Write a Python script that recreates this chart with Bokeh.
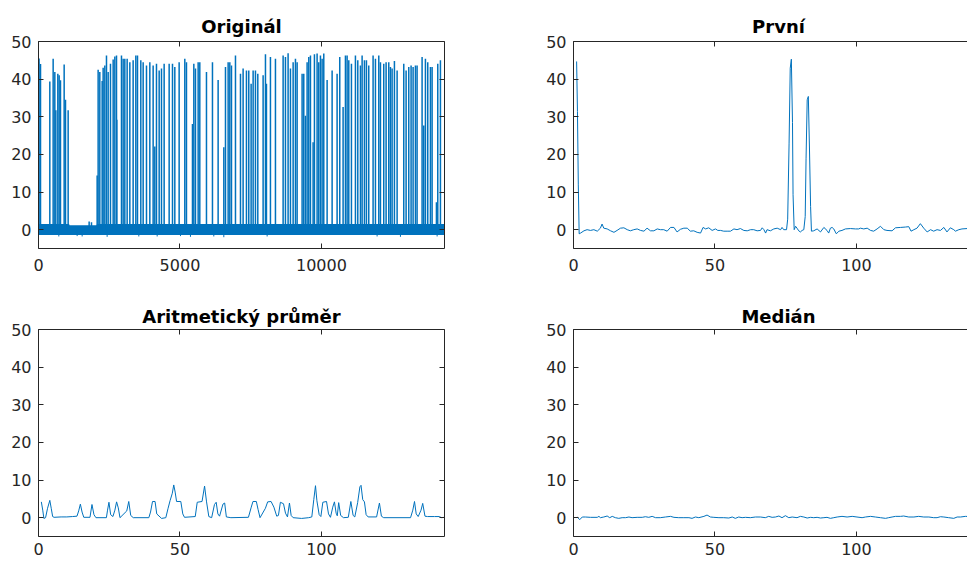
from bokeh.plotting import figure
from bokeh.layouts import column, row
from bokeh.models import Range1d, LinearAxis, FixedTicker, ColumnDataSource, NumeralTickFormatter
from bokeh.embed import file_html
from bokeh.resources import INLINE

BLUE = "#0072BD"
AX = "#262626"

titles = ["Originál", "První", "Aritmetický průměr", "Medián"]
y_ticks = [0, 10, 20, 30, 40, 50]
x_ticks_orig = [0, 5000, 10000]
x_ticks_small = [0, 50, 100]
y_limits = (-5, 50)
x_limits_orig = (0, 14350)
x_limits_small = (0, 143.5)

# ---- Original signal: noise band + spikes ----
orig_band_x = [0, 1080, 1100, 2050, 2070, 14350]
orig_band_lo = [-1.4, -1.4, -1.4, -1.4, -1.4, -1.4]
orig_band_hi = [1.5, 1.5, 1.2, 1.2, 1.5, 1.5]

orig_dip_x = [718, 1366, 1543, 2426, 3546, 4194, 5018, 5371, 6196, 6550, 8081, 11968, 12793, 14089]
orig_dip_d = [-1.8, -1.7, -1.8, -1.9, -1.8, -1.8, -1.7, -1.9, -1.8, -2.0, -1.8, -1.8, -1.9, -1.8]

orig_spike_x = [0, 20, 71, 400, 518, 577, 613, 683, 730, 777, 907, 954, 1048,
                1790, 1873,
                2073, 2108, 2167, 2250, 2285, 2344, 2403, 2462, 2544, 2639,
                2698, 2757, 2768, 2933, 2992, 3051, 3133, 3228, 3345, 3440,
                3499, 3616, 3699, 3817, 3935, 4052, 4111, 4170, 4265, 4347,
                4441, 4618, 4736, 4818, 4971, 5171, 5230, 5442, 5490, 5548,
                5643, 5701, 5937, 6149, 6349, 6550, 6609, 6703, 6762, 6821,
                6962, 7139, 7232, 7350, 7432, 7515, 7586, 7668, 7751, 7939,
                8022, 8057, 8198, 8375, 8646, 8728, 8822, 8905, 9000, 9082,
                9141, 9317, 9376, 9435, 9494, 9553, 9612, 9706, 9753, 9847,
                9906, 9965, 10024, 10083, 10201, 10378, 10554, 10648, 10766, 10849,
                10908, 10967, 11061, 11202, 11285, 11379, 11438, 11520, 11591, 11673,
                11826, 11909, 12027, 12086, 12203, 12286, 12380, 12439, 12498, 12580,
                12675, 12910, 12993, 13087, 13169, 13240, 13323, 13381, 13558, 13617,
                13676, 13758, 13853, 13912, 14065, 14112, 14206]
orig_spike_h = [44.5, 45.5, 44.0, 39.4, 45.4, 41.9, 31.7, 41.4, 41.0, 39.7, 43.9, 34.5, 31.7,
                2.2, 2.0,
                14.4, 42.5, 41.9, 39.5, 43.0, 43.6, 46.3, 41.9, 44.1, 45.2,
                46.0, 46.3, 29.2, 46.3, 45.4, 45.4, 45.4, 44.5, 45.0, 46.3,
                46.3, 45.0, 44.5, 43.6, 44.5, 43.6, 22.1, 44.1, 42.3, 42.8,
                44.1, 44.1, 44.1, 43.2, 44.5, 45.4, 44.5, 28.1, 44.1, 42.8,
                44.5, 44.5, 41.9, 44.5, 39.8, 21.9, 43.2, 44.5, 44.5, 43.6,
                46.3, 41.4, 42.8, 42.3, 42.3, 38.8, 42.3, 42.3, 41.4, 41.0,
                46.6, 38.8, 45.9, 45.4, 46.3, 45.9, 46.9, 42.8, 44.5, 45.4,
                44.5, 41.4, 41.4, 30.3, 44.5, 45.9, 46.3, 23.2, 46.6, 46.8,
                44.5, 46.3, 45.4, 46.8, 39.8, 42.3, 41.4, 45.9, 32.6, 46.3,
                46.3, 45.0, 44.1, 46.3, 45.0, 43.6, 46.3, 45.0, 45.0, 43.6,
                46.3, 45.4, 46.3, 44.5, 44.1, 44.5, 44.5, 43.2, 42.8, 44.8,
                42.3, 44.1, 42.3, 43.2, 43.6, 43.2, 43.6, 43.6, 45.9, 27.7,
                45.4, 44.5, 43.2, 43.2, 7.3, 44.1, 45.0]

# ---- "První" (first sample) ----
prvni_x = [1.1, 1.4, 1.7, 2.0, 2.5, 3.7, 4.8, 6.0, 7.2, 8.4,
           9.5, 10.1, 10.7, 11.9, 13.1, 14.3, 15.4, 16.6, 17.8, 19.0,
           20.1, 21.3, 22.5, 23.7, 24.9, 26.0, 27.2, 28.4, 29.6, 30.7,
           31.9, 33.1, 34.3, 35.5, 36.6, 37.8, 39.0, 40.2, 41.3, 42.5,
           43.7, 44.9, 45.8, 46.7, 47.8, 49.0, 50.2, 51.0, 52.0, 53.1,
           54.3, 55.5, 56.7, 57.8, 59.0, 60.2, 61.4, 62.6, 63.7, 64.9,
           66.1, 66.7, 67.3, 67.9, 68.4, 69.6, 70.8, 72.0, 73.2, 73.7,
           74.3, 75.3, 75.7, 76.2, 76.6, 77.0, 77.4, 77.6, 78.0, 78.5,
           79.0, 79.6, 80.2, 80.8, 81.4, 81.9, 82.2, 82.6, 83.0, 83.4,
           83.8, 84.1, 84.9, 86.1, 87.3, 88.5, 89.6, 90.2, 90.8, 91.4,
           92.0, 92.9, 93.8, 94.9, 96.1, 97.9, 99.7, 100.8, 101.4, 102.6,
           103.8, 105.0, 106.1, 107.3, 108.5, 109.7, 110.8, 112.6, 113.8, 115.6,
           117.3, 118.5, 119.3, 120.3, 121.4, 122.6, 123.8, 125.0, 126.2, 127.3,
           128.5, 129.7, 130.9, 132.0, 133.2, 134.4, 135.0, 136.2, 137.3, 139.1,
           140.5, 142.0, 143.5]
prvni_y = [44.7, 31.4, 11.9, -1.1, -0.9, -0.3, 0.0, -0.2, 0.0, -0.4,
           0.4, 1.5, 0.4, 0.2, -0.3, -0.7, -0.2, 0.4, 0.5, 0.0,
           -0.3, 0.0, 0.2, -0.2, -0.4, 0.4, -0.3, -0.3, 0.2, 0.0,
           0.0, -0.4, 0.6, 0.6, -0.6, 0.1, 0.4, 0.4, -0.4, -0.3,
           -0.7, -0.9, 0.6, 0.2, 0.5, -0.2, 0.2, -0.2, -0.2, -0.4,
           -0.4, -0.4, 0.2, 0.0, 0.3, -0.2, -0.3, 0.0, 0.0, -0.3,
           -0.2, 0.5, 0.0, -0.9, 0.0, -0.3, 0.2, 0.4, 0.0, 0.6,
           0.0, 0.0, 2.8, 23.0, 42.9, 45.3, 28.5, 9.3, 0.0, 0.9,
           0.4, -0.3, -0.6, -0.2, 0.0, 3.5, 19.0, 34.5, 35.4, 21.7,
           6.2, -0.4, -0.3, 0.2, -0.6, 0.6, -0.2, -0.9, 0.4, 0.6,
           0.2, -1.1, -0.4, -0.2, 0.2, 0.3, 0.2, 0.2, 0.4, 0.2,
           0.4, -0.2, -0.4, 0.2, 0.9, 0.0, -0.2, -0.3, 0.5, 0.6,
           0.7, 0.8, -0.4, 0.0, 0.4, 1.6, 0.4, -0.6, 0.0, -0.4,
           0.0, -0.2, 0.6, -0.6, 0.5, 0.0, -0.4, 0.0, 0.2, 0.3,
           0.3, 0.2, 0.3]

# ---- "Aritmetický průměr" (mean) ----
mean_x = [1.0, 1.5, 1.9, 2.5, 3.2, 4.0, 4.5, 5.0, 5.5, 8.0,
          10.0, 12.0, 13.6, 14.2, 14.8, 15.4, 16.0, 18.2, 18.9, 19.6,
          20.3, 24.0, 24.4, 24.9, 25.5, 26.3, 27.0, 27.6, 28.2, 28.8,
          31.2, 31.9, 32.6, 33.5, 39.0, 39.6, 40.3, 41.2, 41.8, 43.5,
          45.0, 45.8, 46.5, 47.3, 47.8, 48.3, 48.8, 50.3, 51.0, 51.6,
          55.4, 56.1, 57.8, 58.7, 59.4, 60.2, 61.2, 62.2, 62.8, 63.4,
          64.0, 65.2, 65.8, 66.4, 68.0, 74.2, 75.2, 75.8, 77.0, 77.6,
          78.3, 80.2, 81.0, 82.2, 83.2, 84.2, 84.8, 85.5, 86.6, 87.3,
          88.0, 88.7, 89.3, 90.0, 93.0, 95.5, 96.6, 97.3, 97.9, 98.4,
          99.2, 99.8, 100.5, 101.8, 102.5, 103.2, 104.0, 104.6, 105.2, 105.6,
          106.1, 106.8, 107.8, 109.5, 110.4, 111.2, 111.8, 112.8, 113.6, 114.0,
          114.6, 115.2, 115.8, 116.5, 119.5, 120.5, 121.2, 122.0, 131.5, 132.3,
          132.9, 133.5, 134.2, 135.2, 135.8, 136.6, 137.5, 140.0, 141.6, 142.5,
          143.5]
mean_y = [4.2, 2.0, -0.2, 0.0, 2.5, 4.6, 2.5, 0.3, 0.1, 0.2,
          0.2, 0.3, 0.4, 1.8, 3.6, 1.5, 0.1, 0.1, 3.5, 0.8,
          0.0, 0.0, 2.0, 4.1, 0.8, 0.3, 2.0, 4.2, 2.6, 0.0,
          1.8, 4.3, 0.6, 0.0, 0.0, 1.5, 4.3, 4.3, 1.0, -0.2,
          0.0, 2.5, 4.5, 6.5, 8.7, 6.8, 4.3, 4.3, 1.0, 0.1,
          0.3, 4.1, 4.3, 8.4, 4.2, 0.3, 0.0, 3.5, 4.1, 1.0,
          0.4, 3.6, 3.9, 0.2, 0.0, 0.1, 2.8, 4.3, 4.3, 2.2,
          0.0, 2.5, 4.2, 4.3, 2.8, 0.4, 0.6, 4.1, 3.7, 1.2,
          0.2, 3.9, 0.6, 0.0, -0.2, 0.0, 0.2, 4.8, 8.5, 4.5,
          0.8, 0.3, 4.1, 4.3, 1.0, 0.1, 2.8, 4.2, 1.2, 0.5,
          4.0, 0.6, 0.0, 0.1, 4.3, 0.6, 0.2, 4.0, 8.2, 8.6,
          4.8, 4.2, 0.8, 0.2, 0.2, 3.9, 0.4, 0.0, 0.0, 2.0,
          4.3, 1.0, 0.3, 2.0, 3.8, 0.4, 0.3, 0.3, 0.3, 0.0,
          0.1]

# ---- "Medián" ----
med_x = [1.0, 1.3, 2.2, 3.1, 4.2, 6.0, 8.4, 9.0, 9.5, 10.7,
         11.9, 12.8, 13.7, 14.8, 16.0, 17.2, 18.4, 19.6, 20.7, 22.5,
         24.3, 25.4, 26.6, 27.8, 29.0, 30.7, 32.5, 34.3, 35.5, 37.2,
         39.0, 40.8, 41.9, 43.1, 44.3, 46.1, 47.2, 48.4, 49.6, 51.4,
         53.1, 54.9, 56.1, 57.2, 58.4, 59.6, 60.8, 62.5, 64.3, 66.1,
         67.8, 69.0, 70.2, 71.4, 72.6, 73.7, 74.9, 76.1, 77.3, 79.0,
         80.2, 81.4, 82.6, 83.8, 84.9, 86.1, 87.3, 88.5, 89.6, 90.8,
         92.0, 93.2, 94.9, 96.7, 98.5, 100.2, 102.0, 103.2, 105.0, 106.7,
         108.5, 110.3, 111.4, 112.6, 113.8, 115.6, 116.7, 118.5, 120.3, 122.0,
         123.8, 125.6, 127.3, 128.5, 129.7, 130.9, 132.6, 134.4, 135.6, 136.8,
         138.5, 140.0, 143.5]
med_y = [0.0, 0.18, -0.53, 0.18, 0.18, 0.09, 0.09, 0.35, 0.0, 0.18,
         0.44, 0.0, 0.35, 0.0, -0.18, 0.0, 0.0, 0.18, 0.0, 0.09,
         0.09, 0.26, 0.09, 0.35, 0.0, 0.0, 0.18, 0.35, 0.09, 0.0,
         0.0, 0.0, -0.18, 0.18, 0.0, 0.35, 0.7, 0.18, 0.09, 0.0,
         0.0, -0.09, 0.18, -0.18, 0.18, 0.0, 0.09, 0.0, 0.18, 0.18,
         0.0, 0.35, 0.09, 0.18, 0.44, 0.0, 0.53, 0.0, 0.18, 0.0,
         0.35, 0.18, -0.09, 0.09, 0.0, 0.09, -0.09, 0.0, 0.09, -0.18,
         0.0, 0.18, 0.35, 0.18, 0.35, 0.18, 0.0, 0.18, 0.35, 0.18,
         0.0, -0.18, 0.0, 0.18, 0.35, 0.35, 0.44, 0.18, 0.18, 0.35,
         0.18, 0.18, 0.0, 0.0, 0.26, 0.18, 0.0, -0.18, 0.18, 0.18,
         0.35, 0.3, 0.2]

FONT = "DejaVu Sans"
TICK_SIZE = "16px"
TITLE_PX = 18
TITLE_SIZE = f"{TITLE_PX}px"

# DejaVu Sans Bold advance widths (em) for centring the right-hand titles
BOLD_EM = {"P": 0.733, "r": 0.493, "v": 0.652, "n": 0.712, "í": 0.343,
           "M": 0.995, "e": 0.678, "d": 0.716, "i": 0.343, "á": 0.675}


def style_axis(ax, ticks, labels, standoff=7):
    ax.ticker = FixedTicker(ticks=ticks)
    ax.formatter = NumeralTickFormatter(format="0")
    ax.axis_line_color = AX
    ax.axis_line_width = 1
    ax.major_tick_line_color = AX
    ax.major_tick_line_width = 1
    ax.major_tick_in = 5
    ax.major_tick_out = 0
    ax.minor_tick_line_color = None
    ax.major_label_text_font = FONT
    if labels:
        ax.major_label_text_color = AX
        ax.major_label_standoff = standoff
        ax.major_label_text_font_size = TICK_SIZE
    else:
        ax.major_label_text_color = None
        ax.major_label_standoff = 0
        ax.major_label_text_font_size = "0px"


def make_fig(title, width, height, bl, br, bt, bb, xr, xticks, mirror_right,
             frame_w, xstand, tstand):
    p = figure(width=width, height=height, output_backend="svg", toolbar_location=None,
               x_range=Range1d(*xr), y_range=Range1d(*y_limits),
               min_border_left=bl, min_border_right=br, min_border_top=bt, min_border_bottom=bb,
               outline_line_color=None, background_fill_color="white",
               border_fill_color="white")
    p.xgrid.visible = False
    p.ygrid.visible = False
    p.title.text = title
    p.title.text_font = FONT
    p.title.text_font_size = TITLE_SIZE
    p.title.text_font_style = "bold"
    p.title.text_color = "#000000"
    p.title.standoff = tstand
    if frame_w is None:
        p.title.align = "center"
    else:
        # centre the title on the full (window-clipped) axes width
        tw = sum(BOLD_EM.get(c, 0.65) for c in title) * TITLE_PX
        p.title.align = "left"
        p.title.offset = frame_w / 2 - tw / 2
    style_axis(p.xaxis[0], xticks, True, xstand)
    style_axis(p.yaxis[0], y_ticks, True, 7)
    top = LinearAxis()
    style_axis(top, xticks, False)
    p.add_layout(top, "above")
    if mirror_right:
        right = LinearAxis()
        style_axis(right, y_ticks, False)
        p.add_layout(right, "right")
    return p


# Top-left: original
p1 = make_fig(titles[0], 480, 290, 38, 36, 41, 42, x_limits_orig, x_ticks_orig, True, None, 10, 9)
band_src = ColumnDataSource(dict(x=orig_band_x, lo=orig_band_lo, hi=orig_band_hi))
p1.varea(x="x", y1="lo", y2="hi", source=band_src, fill_color=BLUE)
dip_src = ColumnDataSource(dict(x=orig_dip_x, d=orig_dip_d, z=[0] * len(orig_dip_x)))
p1.segment(x0="x", y0="z", x1="x", y1="d", source=dip_src, line_color=BLUE, line_width=1)
spk_src = ColumnDataSource(dict(x=orig_spike_x, h=orig_spike_h, z=[0] * len(orig_spike_x)))
p1.segment(x0="x", y0="z", x1="x", y1="h", source=spk_src, line_color=BLUE, line_width=1.5)

# Top-right: first sample (axes clipped by the window edge)
right_end = x_limits_small[0] + 394 / (406 / (x_limits_small[1] - x_limits_small[0]))
p2 = make_fig(titles[1], 487, 290, 93, 0, 41, 42, (0, right_end), x_ticks_small, False, 410, 10, 9)
p2.line(prvni_x, prvni_y, line_color=BLUE, line_width=1)

# Bottom-left: mean
p3 = make_fig(titles[2], 480, 271, 38, 36, 39, 25, x_limits_small, x_ticks_small, True, None, 6, 6)
p3.line(mean_x, mean_y, line_color=BLUE, line_width=1)

# Bottom-right: median
p4 = make_fig(titles[3], 487, 271, 93, 0, 39, 25, (0, right_end), x_ticks_small, False, 410, 6, 6)
p4.line(med_x, med_y, line_color=BLUE, line_width=1)

layout = column(row(p1, p2), row(p3, p4))
open("out.html", "w").write(file_html(layout, INLINE))
